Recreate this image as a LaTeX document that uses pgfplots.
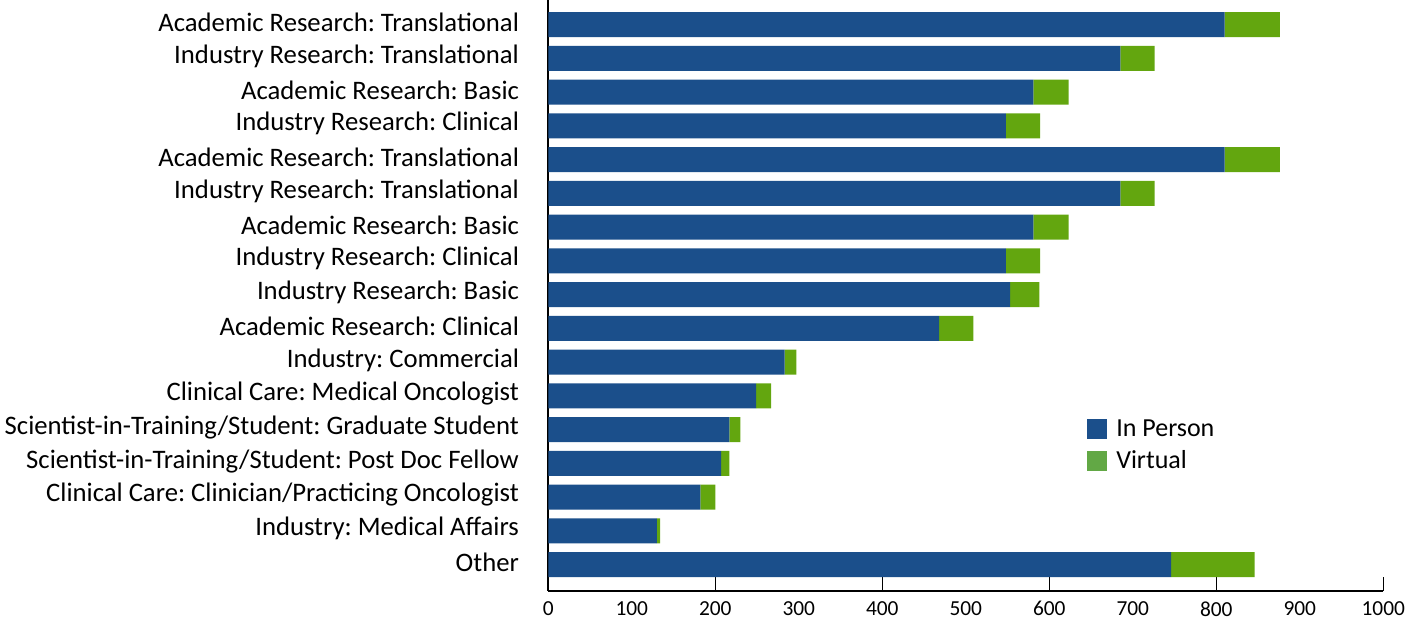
\documentclass[border=0pt]{standalone}
\usepackage{fontspec}
\setmainfont{Carlito}
\usepackage{pgfplots}
\usepackage{pgfplotstable}
\pgfplotsset{compat=1.18}
\frenchspacing
\definecolor{cblue}{HTML}{1B4F8B}
\definecolor{cgreen}{HTML}{63A60F}
\definecolor{lgreen}{HTML}{62A845}
\pgfplotstableread{
pos inperson virtual
1 810 66
2 685 41
3 581 42
4 548 41
5 810 66
6 685 41
7 581 42
8 548 41
9 553 35
10 468 41
11 283 14
12 249 18
13 217 13
14 207 10
15 182 18
16 130 4
17 746 100
}\data
\begin{document}
\begin{tikzpicture}
\begin{axis}[
  scale only axis,
  width=417.5pt, height=295.5pt,
  xbar stacked,
  bar width=12.5pt,
  y dir=reverse,
  xmin=0, xmax=1000,
  ymin=0.274, ymax=17.785,
  axis lines*=left,
  axis line style={black, line width=0.8pt},
  tick align=inside,
  xtick={0,100,...,1000},
  major tick length=0pt,
  extra x ticks={200,400,600,800,1000},
  extra x tick labels={},
  extra x tick style={major tick length=7pt, tick style={black, line width=0.8pt}},
  xticklabel style={font=\fontsize{10.7pt}{12pt}\selectfont, inner sep=0pt, anchor=north, yshift=-5pt},
  /pgf/number format/assume math mode=true,
  /pgf/number format/1000 sep={},
  ytick={1,...,17},
  yticklabels={
    Academic Research: Translational,
    Industry Research: Translational,
    Academic Research: Basic,
    Industry Research: Clinical,
    Academic Research: Translational,
    Industry Research: Translational,
    Academic Research: Basic,
    Industry Research: Clinical,
    Industry Research: Basic,
    Academic Research: Clinical,
    Industry: Commercial,
    Clinical Care: Medical Oncologist,
    Scientist-in-Training/Student: Graduate Student,
    Scientist-in-Training/Student: Post Doc Fellow,
    Clinical Care: Clinician/Practicing Oncologist,
    Industry: Medical Affairs,
    Other},
  yticklabel style={font=\fontsize{13.35pt}{15pt}\selectfont, inner sep=0pt, anchor=east, xshift=-14.5pt, yshift=1pt},
  y tick style={draw=none},
  legend image code/.code={\fill[#1, draw=none] (0pt,-4.5pt) rectangle (10pt,5.5pt);},
  legend style={at={(rel axis cs:0.645,0.2927)}, anchor=north west, draw=none, fill=none,
    inner sep=0pt, row sep=4pt, font=\fontsize{13pt}{15pt}\selectfont,
    nodes={inner sep=0pt, text height=9pt, text depth=3pt},
    /tikz/every odd column/.append style={column sep=4.5pt},
    legend cell align=left},
]
\addplot[fill=cblue, draw=none, forget plot] table[x=inperson, y=pos]{\data};
\addplot[fill=cgreen, draw=none, forget plot] table[x=virtual, y=pos]{\data};
\addlegendimage{fill=cblue, draw=none}
\addlegendentry{In Person}
\addlegendimage{fill=lgreen, draw=none}
\addlegendentry{Virtual}
\end{axis}
\pgfresetboundingbox
\path (-274.15pt,-17pt) rectangle (433.85pt,295.5pt);
\end{tikzpicture}
\end{document}
